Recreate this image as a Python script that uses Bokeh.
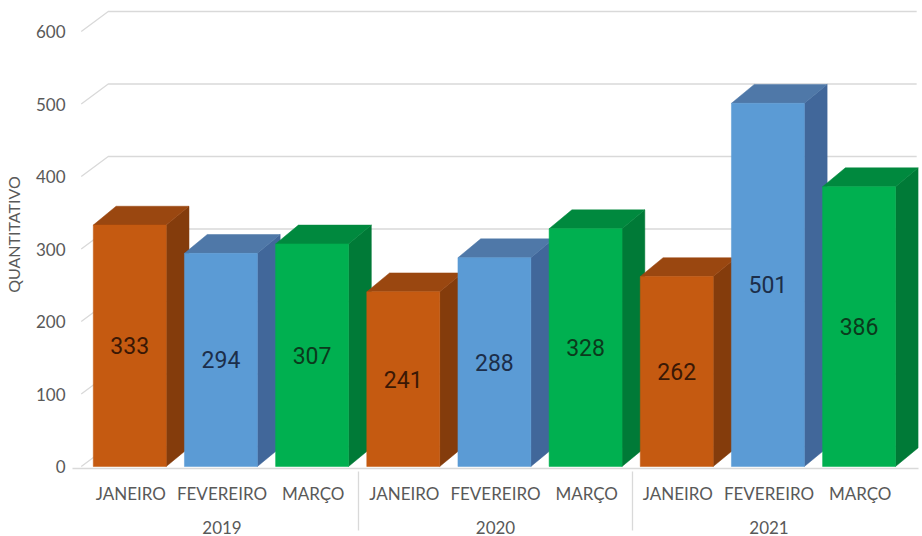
from bokeh.plotting import figure
from bokeh.models import FactorRange, Range1d, ColumnDataSource, FixedTicker
from bokeh.core.properties import value
from bokeh.embed import file_html
from bokeh.resources import INLINE

# ---- data ----
years = ["2019", "2020", "2021"]
months = ["JANEIRO", "FEVEREIRO", "MARÇO"]
janeiro = [333, 241, 262]
fevereiro = [294, 288, 501]
marco = [307, 328, 386]
y_ticks = [0, 100, 200, 300, 400, 500, 600]
y_title = "QUANTITATIVO"

series = {"JANEIRO": janeiro, "FEVEREIRO": fevereiro, "MARÇO": marco}

# ---- style ----
front_colors = {"JANEIRO": "#C55A11", "FEVEREIRO": "#5B9BD5", "MARÇO": "#00B050"}
top_colors = {"JANEIRO": "#9A4710", "FEVEREIRO": "#4F78A8", "MARÇO": "#00893E"}
side_colors = {"JANEIRO": "#843C0C", "FEVEREIRO": "#41679A", "MARÇO": "#007A37"}
label_colors = {"JANEIRO": "#3A1805", "FEVEREIRO": "#1C2E4A", "MARÇO": "#0B3A1C"}
GREY = "#595959"
LABEL_FONT = "Lato"

HALF = 0.4       # half bar width (category units)
SHIFT = -0.012   # bar centre offset within category
DX = 0.25        # depth shift, x (category units)
DY = 26.0        # depth shift, y (data units)
GDX = 0.296      # wall depth shift, x
GDY = 27.6       # wall depth shift, y

factors = [(y, m) for y in years for m in months]
x_range = FactorRange(*factors, factor_padding=0, group_padding=0, subgroup_padding=0,
                      range_padding=0.14, range_padding_units="absolute")

p = figure(width=922, height=536, x_range=x_range, y_range=Range1d(-2.76, 642.8),
           output_backend="svg", toolbar_location=None,
           min_border_left=71, min_border_right=4, min_border_top=0, min_border_bottom=68)
p.outline_line_color = None
p.xgrid.grid_line_color = None
p.ygrid.grid_line_color = None
p.background_fill_color = "white"

# ---- back wall gridlines ----
first = (years[0], months[0])
last = (years[-1], months[-1])
gx, gy = [], []
for t in y_ticks:
    gx.append([first + (-0.5 - 0.044,), first + (-0.5 - 0.044 + GDX,), last + (0.62,)])
    gy.append([t, t + GDY, t + GDY])
p.multi_line(xs=gx, ys=gy, line_color="#D9D9D9", line_width=1.3)

# ---- 3D bars ----
side_xs, side_ys, side_c = [], [], []
top_xs, top_ys, top_c = [], [], []
front_xs, front_ys, front_c = [], [], []
lx, ly, lt, lc = [], [], [], []
for yi, y in enumerate(years):
    for m in months:
        v = series[m][yi]
        f = (y, m)
        xl = f + (SHIFT - HALF,)
        xr = f + (SHIFT + HALF,)
        xlb = f + (SHIFT - HALF + DX,)
        xrb = f + (SHIFT + HALF + DX,)
        side_xs.append([xr, xrb, xrb, xr])
        side_ys.append([0, DY, v + DY, v])
        side_c.append(side_colors[m])
        top_xs.append([xl, xr, xrb, xlb])
        top_ys.append([v, v, v + DY, v + DY])
        top_c.append(top_colors[m])
        front_xs.append([xl, xr, xr, xl])
        front_ys.append([0, 0, v, v])
        front_c.append(front_colors[m])
        lx.append(f + (SHIFT,))
        ly.append(v / 2)
        lt.append(str(v))
        lc.append(label_colors[m])

p.patches(xs="xs", ys="ys", fill_color="c", line_color="c", line_width=0.5,
          source=ColumnDataSource(dict(xs=side_xs, ys=side_ys, c=side_c)))
p.patches(xs="xs", ys="ys", fill_color="c", line_color="c", line_width=0.5,
          source=ColumnDataSource(dict(xs=top_xs, ys=top_ys, c=top_c)))
p.patches(xs="xs", ys="ys", fill_color="c", line_color="c", line_width=0.5,
          source=ColumnDataSource(dict(xs=front_xs, ys=front_ys, c=front_c)))

p.text(x="x", y="y", text="t", text_color="c", source=ColumnDataSource(dict(x=lx, y=ly, t=lt, c=lc)),
       text_align="center", text_baseline="middle", text_font=value("Roboto"),
       text_font_size="23px")

# ---- axes ----
xa = p.xaxis[0]
xa.axis_line_color = "#D9D9D9"
xa.axis_line_width = 1.3
xa.major_tick_line_color = None
xa.minor_tick_line_color = None
xa.major_tick_out = 0
xa.major_label_standoff = 14
xa.major_label_text_font = LABEL_FONT
xa.major_label_text_font_size = "17px"
xa.major_label_text_color = GREY
xa.group_text_font = LABEL_FONT
xa.group_text_font_size = "17px"
xa.group_text_font_style = "normal"
xa.group_text_color = GREY
xa.separator_line_color = "#D9D9D9"
xa.separator_line_width = 1.3

ya = p.yaxis[0]
ya.ticker = FixedTicker(ticks=y_ticks)
ya.axis_line_color = None
ya.major_tick_line_color = None
ya.minor_tick_line_color = None
ya.major_tick_out = 0
ya.major_label_standoff = 7
ya.major_label_text_font = LABEL_FONT
ya.major_label_text_font_size = "17px"
ya.major_label_text_color = GREY
ya.axis_label = y_title
ya.axis_label_text_font = LABEL_FONT
ya.axis_label_text_font_size = "16px"
ya.axis_label_text_font_style = "normal"
ya.axis_label_text_color = GREY
ya.axis_label_standoff = 10

open("out.html", "w").write(file_html(p, INLINE))
